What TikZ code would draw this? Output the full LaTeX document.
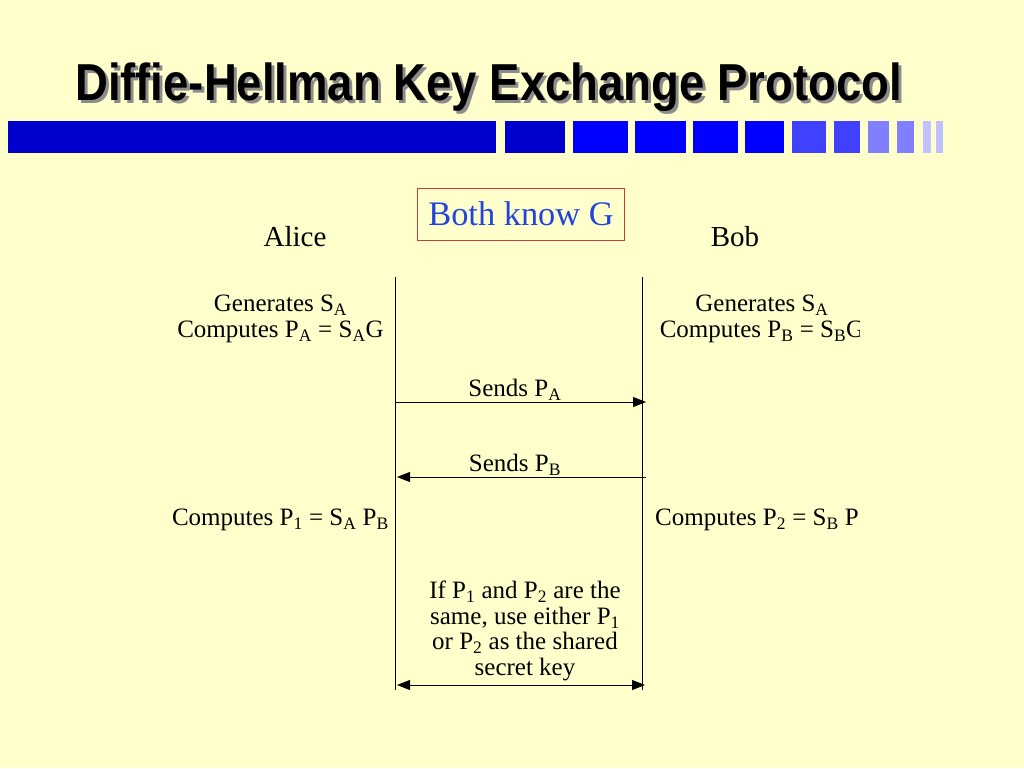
\documentclass[tikz,border=0pt]{standalone}
\usepackage{fontspec}
\setmainfont{Liberation Serif}
\newfontfamily\titlefont{Liberation Sans}
\usetikzlibrary{arrows.meta}

\definecolor{slidebg}{RGB}{255,255,204}
\definecolor{bardark}{RGB}{0,0,204}
\definecolor{barblue}{RGB}{0,0,255}
\definecolor{barmid}{RGB}{64,64,255}
\definecolor{barlight}{RGB}{128,128,255}
\definecolor{barpale}{RGB}{192,192,255}
\definecolor{knowblue}{RGB}{34,68,221}
\definecolor{knowred}{RGB}{200,60,60}

\tikzset{
  msg/.style={line width=1pt, -{Triangle[length=13pt,width=10pt]}},
  both/.style={line width=1pt, {Triangle[length=13pt,width=10pt]}-{Triangle[length=13pt,width=10pt]}},
  txt/.style={inner sep=0pt, align=center, font=\fontsize{25}{25.5}\selectfont},
  who/.style={inner sep=0pt, font=\fontsize{29}{32}\selectfont},
  heading/.style={anchor=base west, inner sep=0pt, xscale=0.875,
                  font=\titlefont\bfseries\fontsize{52}{52}\selectfont}
}

\begin{document}
\begin{tikzpicture}[x=1pt, y=-1pt]
            \fill[slidebg] (0,0) rectangle (1024,768);

            % title
            \node[heading, text=black!45] at (78,103) {Diffie-Hellman Key Exchange Protocol};
            \node (title) [heading] at (75,100) {Diffie-Hellman Key Exchange Protocol};

            % bars
            \fill[bardark] (8,121) rectangle (496,153);
            \fill[bardark] (505,121) rectangle (565,153);
            \fill[barblue] (573,121) rectangle (628,153);
            \fill[barblue] (635,121) rectangle (686,153);
            \fill[barblue] (693,121) rectangle (738,153);
            \fill[barblue] (745,121) rectangle (784,153);
            \fill[barmid] (792,121) rectangle (826,153);
            \fill[barmid] (834,121) rectangle (860,153);
            \fill[barlight] (868,121) rectangle (889,153);
            \fill[barlight] (897,121) rectangle (914,153);
            \fill[barpale] (923,121) rectangle (931,153);
            \fill[barpale] (936,121) rectangle (943,153);

            \node (know) [draw=knowred, line width=0.8pt, text=knowblue, inner xsep=10.5pt,
                  minimum height=52pt, font=\fontsize{34.4}{38}\selectfont] at (521,214) {Both know G};
            \node (alice) [who] at (295,237) {Alice};
            \node (bob) [who] at (735,237) {Bob};

            % lifelines
            \coordinate (a0) at (395,277);
            \coordinate (a1) at (395,690);
            \coordinate (b0) at (642,277);
            \coordinate (b1) at (642,690);
            \draw[line width=1pt] (a0) -- (a1);
            \draw[line width=1pt] (b0) -- (b1);

            \node (agen) [txt] at (280.5,319) {Generates S\textsubscript{A}\\Computes P\textsubscript{A} = S\textsubscript{A}G};
            \begin{scope}
              \clip (650,280) rectangle (859,545);
              \node (bgen) [txt] at (762,319) {Generates S\textsubscript{A}\\Computes P\textsubscript{B} = S\textsubscript{B}G};
              \node (bkey) [txt, anchor=west] at (655,520) {Computes P\textsubscript{2} = S\textsubscript{B} P};
            \end{scope}

            \coordinate (s1a) at (396,402);
            \coordinate (s1b) at (646,402);
            \draw[msg] (s1a) -- (s1b);
            \node (senda) [txt] at (515,390) {Sends P\textsubscript{A}};

            \coordinate (s2a) at (397,477);
            \coordinate (s2b) at (646,477);
            \draw[msg] (s2b) -- (s2a);
            \node (sendb) [txt] at (515,465) {Sends P\textsubscript{B}};

            \node (akey) [txt, anchor=east] at (389,520) {Computes P\textsubscript{1} = S\textsubscript{A} P\textsubscript{B}};

            \node (same) [txt] at (525,631) {If P\textsubscript{1} and P\textsubscript{2} are the\\same, use either P\textsubscript{1}\\or P\textsubscript{2} as the shared\\secret key};
            \coordinate (s3a) at (397,685);
            \coordinate (s3b) at (645,685);
            \draw[both] (s3a) -- (s3b);
\end{tikzpicture}
\end{document}
